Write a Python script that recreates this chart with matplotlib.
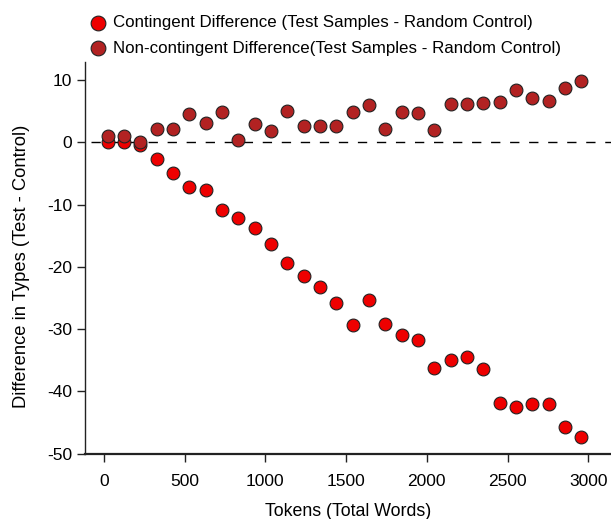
import matplotlib
matplotlib.use("Agg")
import matplotlib.pyplot as plt

plt.rcParams['font.family'] = ['Liberation Sans', 'DejaVu Sans']
plt.rcParams['axes.unicode_minus'] = False

# Tokens (total words) sampled
tokens = [22, 123, 224, 326, 427, 528, 629, 731, 832, 933,
          1034, 1135, 1237, 1338, 1439, 1540, 1642, 1743, 1844, 1945,
          2046, 2148, 2249, 2350, 2451, 2552, 2654, 2755, 2856, 2957]

# Contingent difference (test samples - random control)
contingent = [0.0, 0.0, -0.5, -2.6, -5.0, -7.2, -7.7, -10.8, -12.1, -13.8,
              -16.4, -19.4, -21.4, -23.3, -25.8, -29.3, -25.3, -29.2, -30.9, -31.7,
              -36.2, -35.0, -34.5, -36.4, -41.9, -42.5, -42.0, -42.1, -45.7, -47.3]

# Non-contingent difference (test samples - random control)
non_contingent = [1.0, 1.0, 0.1, 2.2, 2.1, 4.6, 3.1, 4.9, 0.3, 3.0,
                  1.9, 5.0, 2.7, 2.6, 2.7, 4.9, 6.0, 2.1, 4.8, 4.7,
                  2.0, 6.2, 6.1, 6.3, 6.5, 8.4, 7.1, 6.7, 8.7, 9.9]

fig = plt.figure(figsize=(6.11, 5.19), dpi=100)
ax = fig.add_axes([0.139, 0.1247, 0.861, 0.7558])

# zero reference line
ax.axhline(0, xmin=0.012, xmax=1, color='black', lw=1.0,
           dashes=(6.7, 7), zorder=1)

ax.scatter(tokens, contingent, s=85, color='#ee0000', edgecolor='#222222',
           linewidth=0.8, zorder=3,
           label='Contingent Difference (Test Samples - Random Control)')
ax.scatter(tokens, non_contingent, s=85, color='#b22222', edgecolor='#222222',
           linewidth=0.8, zorder=4,
           label='Non-contingent Difference(Test Samples - Random Control)')

ax.set_xlim(-118, 3141)
ax.set_ylim(-50.1, 12.9)
ax.set_xticks([0, 500, 1000, 1500, 2000, 2500, 3000])
ax.set_yticks([10, 0, -10, -20, -30, -40, -50])

for side in ['top', 'right']:
    ax.spines[side].set_visible(False)
ax.spines['left'].set_linewidth(1.0)
ax.spines['bottom'].set_linewidth(1.6)
ax.spines['left'].set_color('#222222')
ax.spines['bottom'].set_color('#222222')
ax.tick_params(axis='y', direction='out', length=6, width=1.0,
               color='#222222', labelsize=12.5, pad=3)
ax.tick_params(axis='x', direction='out', length=5.5, width=1.0,
               color='#222222', labelsize=12.5, pad=9)

ax.set_xlabel('Tokens (Total Words)', fontsize=12.8, labelpad=10)
ax.set_ylabel('Difference in Types (Test - Control)', fontsize=13.2)
ax.yaxis.set_label_coords(-0.104, 0.48)

fig.legend(loc='upper left', bbox_to_anchor=(0.135, 0.984), frameon=False,
           fontsize=12.2, handlelength=1.0, handletextpad=0.4,
           labelspacing=0.62, borderaxespad=0, markerscale=1.15)

fig.savefig('out.png', dpi=100)
